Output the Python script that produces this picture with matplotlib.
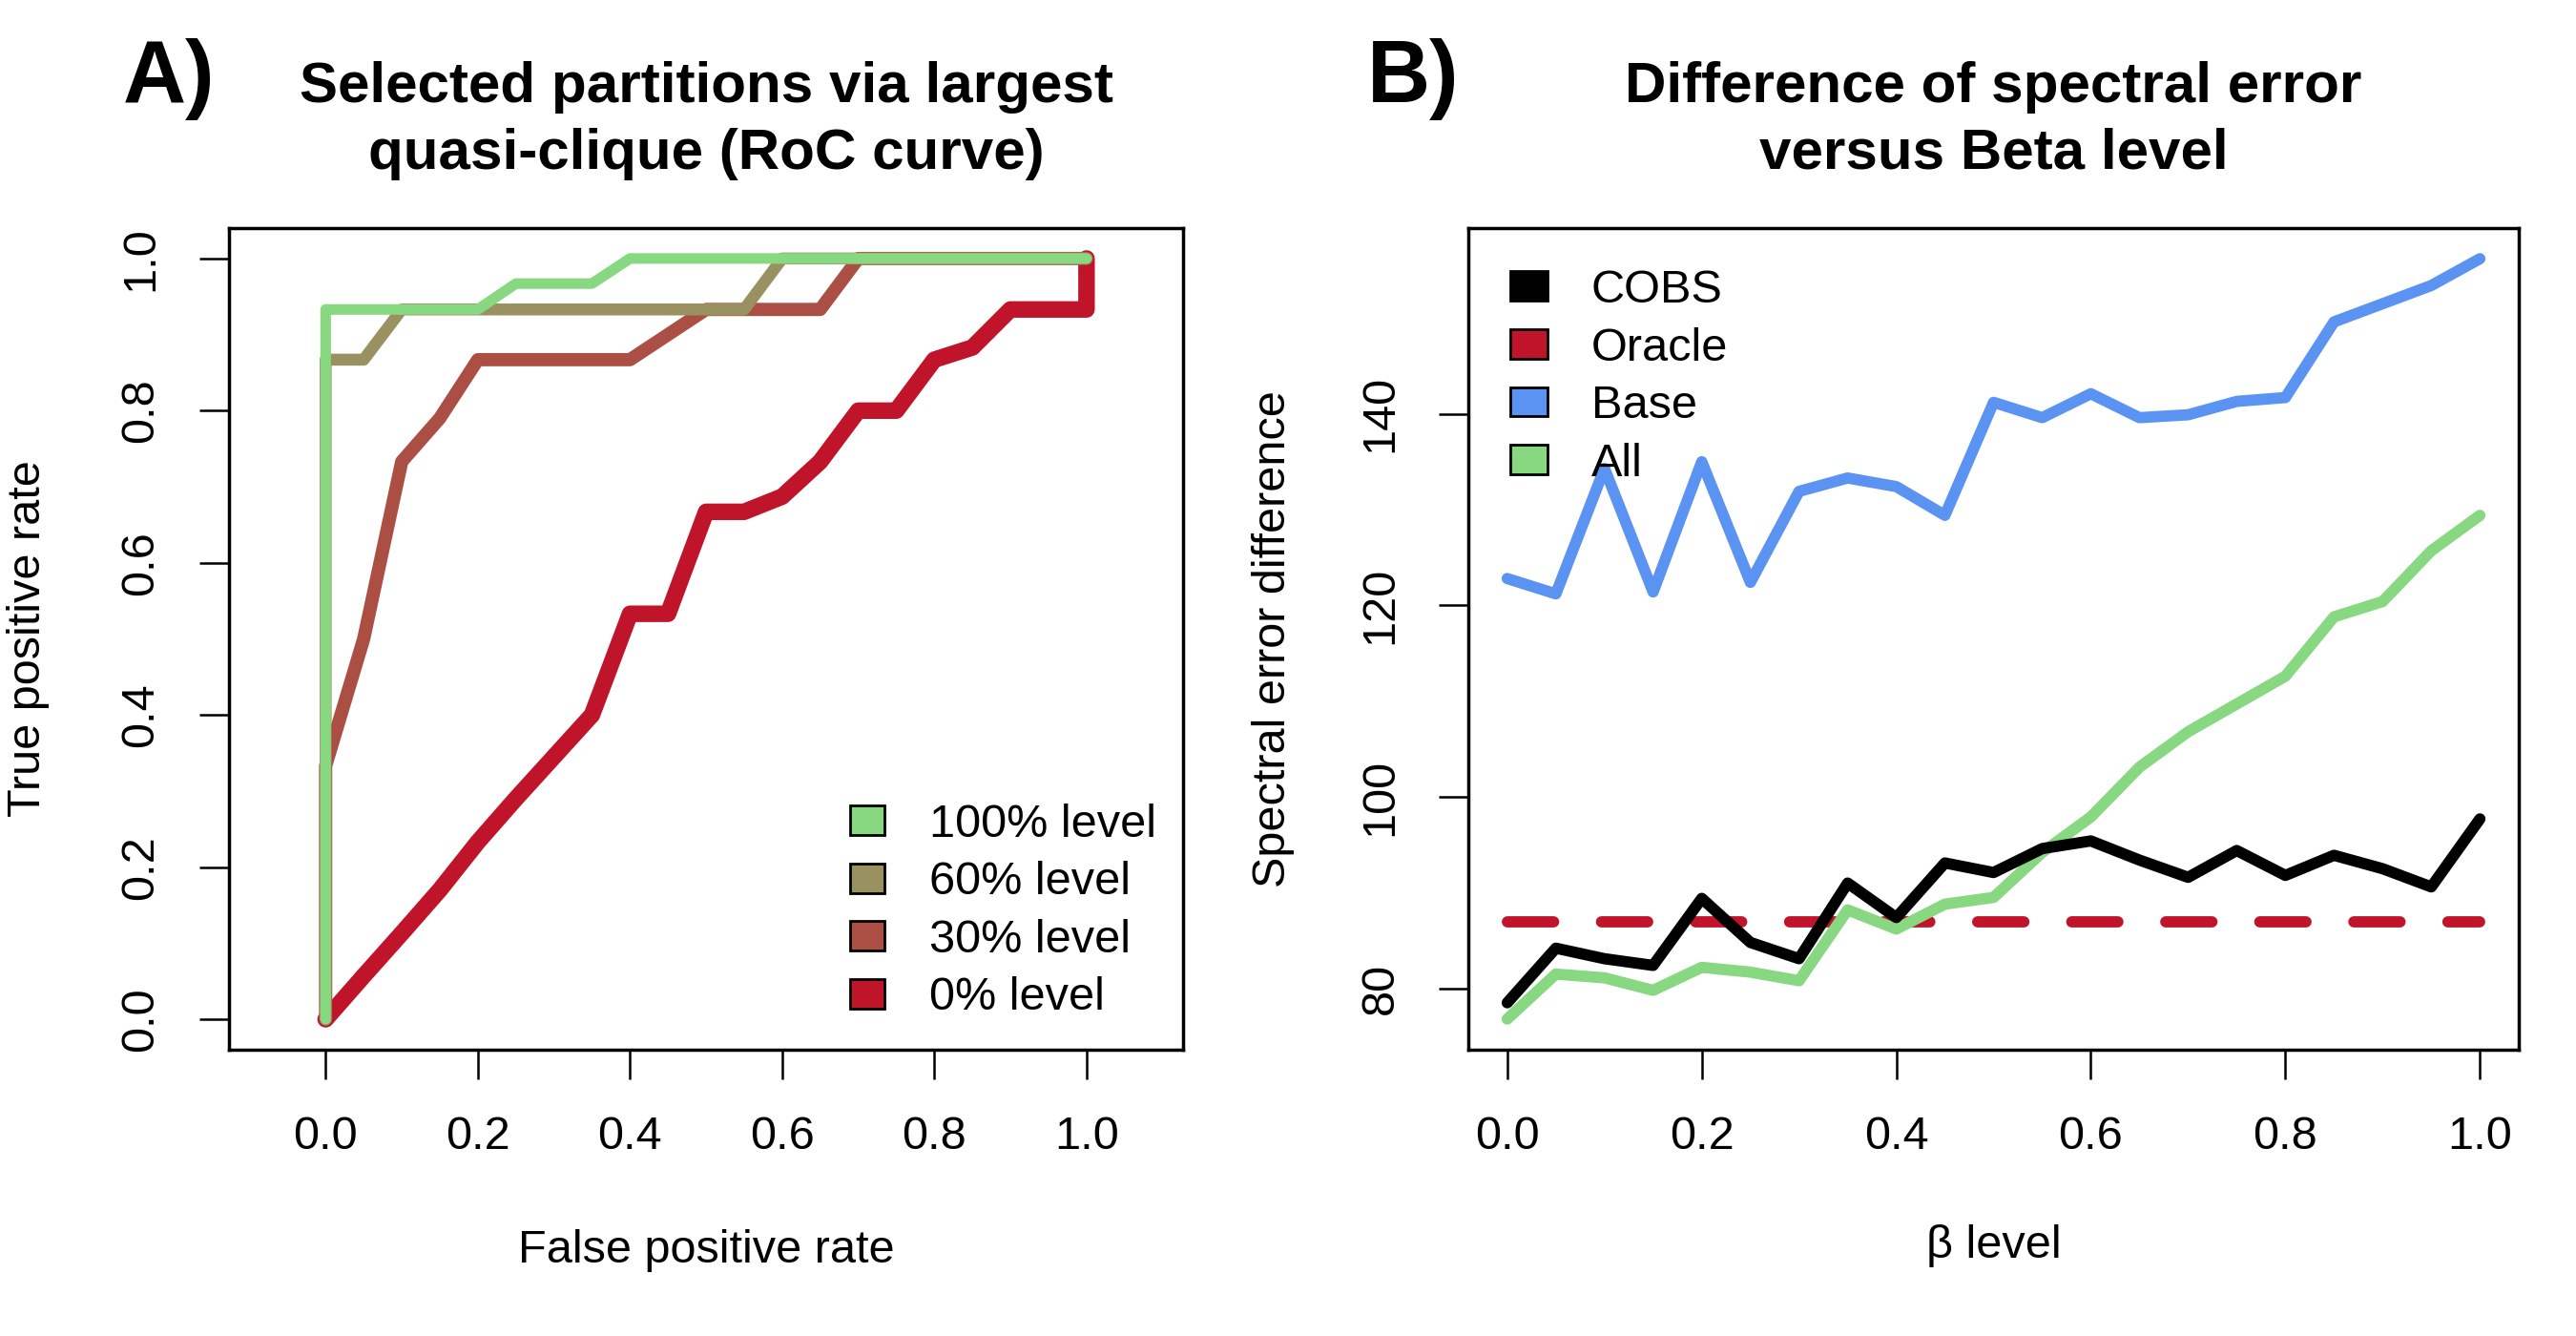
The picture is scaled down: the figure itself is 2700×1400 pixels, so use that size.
import matplotlib
matplotlib.use('Agg')
import matplotlib.pyplot as plt
from matplotlib.patches import Patch

plt.rcParams['font.family'] = ['Liberation Sans', 'DejaVu Sans']

# ---- panel A: ROC curves for selected partitions
fpr_100 = [0.0, 0.0, 0.2, 0.25, 0.35, 0.4, 1.0]
tpr_100 = [0.0, 0.933, 0.933, 0.967, 0.967, 1.0, 1.0]
fpr_60 = [0.0, 0.0, 0.05, 0.1, 0.55, 0.6, 1.0]
tpr_60 = [0.0, 0.867, 0.867, 0.933, 0.933, 1.0, 1.0]
fpr_30 = [0.0, 0.0, 0.05, 0.1, 0.15, 0.2, 0.4, 0.5, 0.65, 0.7, 1.0]
tpr_30 = [0.0, 0.333, 0.5, 0.733, 0.79, 0.867, 0.867, 0.933, 0.933, 1.0, 1.0]
fpr_0 = [0.0, 0.05, 0.1, 0.15, 0.2, 0.25, 0.3, 0.35, 0.4, 0.45, 0.5,
         0.55, 0.6, 0.65, 0.7, 0.75, 0.8, 0.85, 0.9, 0.95, 1.0, 1.0]
tpr_0 = [0.0, 0.057, 0.113, 0.17, 0.233, 0.29, 0.345, 0.4, 0.533, 0.533, 0.667,
         0.667, 0.687, 0.733, 0.8, 0.8, 0.867, 0.883, 0.933, 0.933, 0.933, 1.0]
roc_labels = ['100% level', '60% level', '30% level', '0% level']
roc_colors = ['#87D881', '#9A9161', '#AB4F45', '#C0142A']
rate_ticks = [0.0, 0.2, 0.4, 0.6, 0.8, 1.0]
rate_tick_labels = ['0.0', '0.2', '0.4', '0.6', '0.8', '1.0']

# ---- panel B: spectral error difference vs beta
beta = [0.0, 0.05, 0.1, 0.15, 0.2, 0.25, 0.3, 0.35, 0.4, 0.45, 0.5,
        0.55, 0.6, 0.65, 0.7, 0.75, 0.8, 0.85, 0.9, 0.95, 1.0]
cobs = [78.5, 84.2, 83.1, 82.4, 89.4, 84.8, 83.1, 91.0, 87.4, 93.1, 92.1,
        94.6, 95.4, 93.4, 91.6, 94.4, 91.8, 93.9, 92.5, 90.6, 97.7]
oracle = [87.0, 87.0, 87.0, 87.0, 87.0, 87.0, 87.0, 87.0, 87.0, 87.0, 87.0,
          87.0, 87.0, 87.0, 87.0, 87.0, 87.0, 87.0, 87.0, 87.0, 87.0]
base = [122.8, 121.2, 134.3, 121.4, 135.0, 122.4, 131.9, 133.3, 132.4, 129.4, 141.2,
        139.6, 142.1, 139.6, 139.9, 141.3, 141.7, 149.6, 151.5, 153.4, 156.2]
all_parts = [76.8, 81.5, 81.1, 79.8, 82.2, 81.7, 80.8, 88.2, 86.2, 88.8, 89.5,
             94.2, 97.9, 103.1, 106.8, 109.7, 112.6, 118.8, 120.4, 125.7, 129.4]
b_labels = ['COBS', 'Oracle', 'Base', 'All']
b_colors = ['#000000', '#C0142A', '#5B93F3', '#87D881']
err_ticks = [80, 100, 120, 140]
err_tick_labels = ['80', '100', '120', '140']

FS = 35
TFS = 43.3

fig = plt.figure(figsize=(27, 14), dpi=100)
ax_a = fig.add_axes([0.0889, 0.2143, 0.3704, 0.6150])
ax_b = fig.add_axes([0.5700, 0.2143, 0.4078, 0.6150])


def style_axes(ax):
    for sp in ax.spines.values():
        sp.set_linewidth(2.5)
    ax.tick_params(length=22, width=1.8, labelsize=FS, pad=28, direction='out')


line_kw = dict(solid_capstyle='round', solid_joinstyle='round')

# panel A
ax_a.plot(fpr_0, tpr_0, color=roc_colors[3], lw=12.5, **line_kw)
ax_a.plot(fpr_30, tpr_30, color=roc_colors[2], lw=10, **line_kw)
ax_a.plot(fpr_60, tpr_60, color=roc_colors[1], lw=9, **line_kw)
ax_a.plot(fpr_100, tpr_100, color=roc_colors[0], lw=8, **line_kw)
ax_a.set_xlim(-0.127, 1.127)
ax_a.set_ylim(-0.04, 1.04)
style_axes(ax_a)
ax_a.set_xticks(rate_ticks)
ax_a.set_xticklabels(rate_tick_labels)
ax_a.set_yticks(rate_ticks)
ax_a.set_yticklabels(rate_tick_labels, rotation=90, va='center')
ax_a.set_xlabel('False positive rate', fontsize=FS)
ax_a.set_ylabel('True positive rate', fontsize=FS)
ax_a.xaxis.set_label_coords(0.5, -0.218)
ax_a.yaxis.set_label_coords(-0.188, 0.5)
handles_a = [Patch(facecolor=c, edgecolor='black', linewidth=2) for c in roc_colors]
ax_a.legend(handles_a, roc_labels, loc='upper left', bbox_to_anchor=(0.651, 0.30),
            frameon=False, fontsize=FS, handlelength=0.74, handleheight=0.6,
            handletextpad=0.97, labelspacing=0.32, borderpad=0, borderaxespad=0)

# panel B
ax_b.plot(beta, oracle, color=b_colors[1], lw=8.5, dashes=(4.1, 4.25),
          dash_capstyle='round')
ax_b.plot(beta, base, color=b_colors[2], lw=8.5, **line_kw)
ax_b.plot(beta, all_parts, color=b_colors[3], lw=8.5, **line_kw)
ax_b.plot(beta, cobs, color=b_colors[0], lw=8.5, **line_kw)
ax_b.set_xlim(-0.04, 1.04)
ax_b.set_ylim(73.6, 159.4)
style_axes(ax_b)
ax_b.set_xticks(rate_ticks)
ax_b.set_xticklabels(rate_tick_labels)
ax_b.set_yticks(err_ticks)
ax_b.set_yticklabels(err_tick_labels, rotation=90, va='center')
ax_b.set_xlabel('\u03b2 level', fontsize=FS)
ax_b.set_ylabel('Spectral error difference', fontsize=FS)
ax_b.xaxis.set_label_coords(0.5, -0.2125)
ax_b.yaxis.set_label_coords(-0.165, 0.5)
handles_b = [Patch(facecolor=c, edgecolor='black', linewidth=2) for c in b_colors]
ax_b.legend(handles_b, b_labels, loc='upper left', bbox_to_anchor=(0.040, 0.95),
            frameon=False, fontsize=FS, handlelength=0.8, handleheight=0.6,
            handletextpad=0.94, labelspacing=0.32, borderpad=0, borderaxespad=0)

# titles and panel letters
fig.text(0.0478, 0.9236, 'A)', fontsize=66, fontweight='bold', va='baseline')
fig.text(0.5307, 0.9236, 'B)', fontsize=66, fontweight='bold', va='baseline')
fig.text(0.2741, 0.9236, 'Selected partitions via largest', fontsize=TFS,
         fontweight='bold', ha='center', va='baseline')
fig.text(0.2741, 0.8736, 'quasi-clique (RoC curve)', fontsize=TFS,
         fontweight='bold', ha='center', va='baseline')
fig.text(0.7739, 0.9236, 'Difference of spectral error', fontsize=TFS,
         fontweight='bold', ha='center', va='baseline')
fig.text(0.7739, 0.8736, 'versus Beta level', fontsize=TFS,
         fontweight='bold', ha='center', va='baseline')

fig.savefig('out.png', dpi=100)
